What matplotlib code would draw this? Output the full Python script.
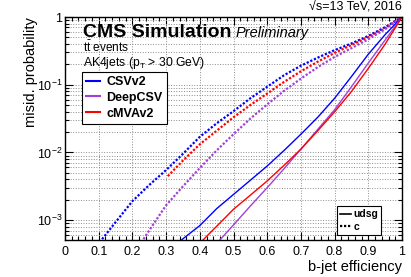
import matplotlib
matplotlib.use("Agg")
import matplotlib.pyplot as plt
from matplotlib.lines import Line2D
from matplotlib.ticker import FixedLocator, LogLocator, NullFormatter, MultipleLocator

plt.rcParams['font.family'] = ['Liberation Sans', 'DejaVu Sans']
plt.rcParams['mathtext.default'] = 'regular'

# b-jet efficiency vs misid. probability
csv_c_x = [0.11, 0.15, 0.2, 0.25, 0.3, 0.35, 0.4, 0.45, 0.5, 0.55, 0.6, 0.65, 0.7, 0.75, 0.8, 0.85, 0.9, 0.95, 1.0]
csv_c_y = [5.25e-4, 9.33e-4, 1.91e-3, 3.31e-3, 5.50e-3, 9.55e-3, 1.70e-2, 2.69e-2, 4.07e-2, 6.31e-2, 9.33e-2,
           0.138, 0.191, 0.251, 0.324, 0.407, 0.525, 0.708, 1.0]

cmva_c_x = [0.305, 0.35, 0.4, 0.45, 0.5, 0.55, 0.6, 0.65, 0.7, 0.75, 0.8, 0.85, 0.9, 0.95, 1.0]
cmva_c_y = [4.47e-3, 7.59e-3, 1.32e-2, 2.09e-2, 3.31e-2, 5.01e-2, 7.41e-2, 0.110, 0.158, 0.219, 0.295,
            0.385, 0.505, 0.680, 1.0]

deep_c_x = [0.233, 0.25, 0.3, 0.35, 0.4, 0.45, 0.5, 0.55, 0.6, 0.65, 0.7, 0.75, 0.8, 0.85, 0.9, 0.95, 1.0]
deep_c_y = [5.25e-4, 7.08e-4, 1.66e-3, 3.16e-3, 5.89e-3, 1.07e-2, 1.86e-2, 3.16e-2, 5.13e-2, 8.13e-2,
            0.123, 0.182, 0.257, 0.347, 0.468, 0.661, 1.0]

csv_l_x = [0.346, 0.4, 0.45, 0.5, 0.55, 0.6, 0.65, 0.7, 0.75, 0.8, 0.85, 0.9, 0.95, 1.0]
csv_l_y = [5.13e-4, 8.32e-4, 1.48e-3, 2.40e-3, 3.89e-3, 6.31e-3, 1.07e-2, 1.86e-2, 3.31e-2, 6.31e-2,
           0.132, 0.282, 0.550, 1.0]

cmva_l_x = [0.41, 0.45, 0.5, 0.55, 0.6, 0.65, 0.7, 0.75, 0.8, 0.85, 0.9, 0.95, 1.0]
cmva_l_y = [5.13e-4, 8.13e-4, 1.45e-3, 2.34e-3, 3.80e-3, 6.46e-3, 1.12e-2, 2.09e-2, 3.98e-2, 7.94e-2,
            0.174, 0.398, 1.0]

deep_l_x = [0.46, 0.5, 0.55, 0.6, 0.65, 0.7, 0.75, 0.8, 0.85, 0.9, 0.95, 1.0]
deep_l_y = [5.13e-4, 8.51e-4, 1.62e-3, 3.02e-3, 5.75e-3, 1.12e-2, 2.19e-2, 4.27e-2, 9.33e-2, 0.209, 0.457, 1.0]

x_ticks = [0, 0.1, 0.2, 0.3, 0.4, 0.5, 0.6, 0.7, 0.8, 0.9, 1.0]
x_labels = ['0', '0.1', '0.2', '0.3', '0.4', '0.5', '0.6', '0.7', '0.8', '0.9', '1']
y_ticks = [1e-3, 1e-2, 1e-1, 1]
y_labels = ['$10^{-3}$', '$10^{-2}$', '$10^{-1}$', '1']

blue = '#0000ff'
red = '#ff0000'
purple = '#a040d8'
dots = (0, (1, 0.8))

fig = plt.figure(figsize=(4.11, 2.77), dpi=100)
ax = fig.add_axes([65 / 411, 37 / 277, 337 / 411, 223 / 277])

ax.plot(csv_c_x, csv_c_y, color=blue, lw=1.6, ls=dots)
ax.plot(cmva_c_x, cmva_c_y, color=red, lw=1.6, ls=dots)
ax.plot(deep_c_x, deep_c_y, color=purple, lw=1.6, ls=dots)
ax.plot(csv_l_x, csv_l_y, color=blue, lw=1.0)
ax.plot(deep_l_x, deep_l_y, color=purple, lw=1.0)
ax.plot(cmva_l_x, cmva_l_y, color=red, lw=1.0)

ax.set_yscale('log')
ax.set_xlim(0, 1)
ax.set_ylim(5.1e-4, 1)

ax.set_xticks(x_ticks)
ax.set_xticklabels(x_labels)
ax.xaxis.set_minor_locator(MultipleLocator(0.02))
ax.yaxis.set_major_locator(FixedLocator(y_ticks))
ax.set_yticklabels(y_labels)
ax.yaxis.set_minor_locator(LogLocator(base=10, subs=range(2, 10)))
ax.yaxis.set_minor_formatter(NullFormatter())

ax.tick_params(which='both', direction='in', top=True, right=True, labelsize=9, width=0.8)
ax.tick_params(which='major', length=6)
ax.tick_params(which='minor', length=3)
ax.tick_params(axis='x', pad=4)
ax.tick_params(axis='y', pad=2)
for s in ax.spines.values():
    s.set_linewidth(1.0)

ax.grid(which='major', axis='both', color='0.55', ls=':', lw=0.7)
ax.grid(which='minor', axis='y', color='0.55', ls=':', lw=0.7)
ax.set_axisbelow(True)

ax.set_xlabel('b-jet efficiency', fontsize=10.5, loc='right', labelpad=2)
ax.set_ylabel('misid. probability', fontsize=10.5, loc='top')
ax.yaxis.set_label_coords(-27 / 337, 1.0)

# header texts
ax.text(0.0534, 0.912, 'CMS Simulation', transform=ax.transAxes, fontsize=14,
        fontweight='bold', va='baseline')
ax.text(0.507, 0.912, 'Preliminary', transform=ax.transAxes, fontsize=10.5,
        style='italic', va='baseline')
ax.text(0.0534, 0.843, r'$t\bar{t}$ events', transform=ax.transAxes, fontsize=8.5, va='baseline')
ax.text(0.0534, 0.781, r'AK4jets (p$_{T}$ > 30 GeV)', transform=ax.transAxes, fontsize=8.7,
        va='baseline')
fig.text(402 / 411, 0.964, '\u221as=13 TeV, 2016', fontsize=9, ha='right', va='baseline')

# tagger legend
tag_handles = [Line2D([], [], color=blue, lw=1.5),
               Line2D([], [], color=purple, lw=1.5),
               Line2D([], [], color=red, lw=1.5)]
leg1 = ax.legend(tag_handles, ['CSVv2', 'DeepCSV', 'cMVAv2'], loc='upper left',
                 bbox_to_anchor=(0.0496, 0.7547), borderaxespad=0, fancybox=False,
                 edgecolor='black', framealpha=1, prop={'weight': 'bold', 'size': 9},
                 handlelength=1.1, handletextpad=0.5, labelspacing=0.3, borderpad=0.35)
leg1.get_frame().set_linewidth(0.8)
ax.add_artist(leg1)

# flavour legend
fl_handles = [Line2D([], [], color='black', lw=1.2),
              Line2D([], [], color='black', lw=1.6, ls=dots)]
leg2 = ax.legend(fl_handles, ['udsg', 'c'], loc='lower left',
                 bbox_to_anchor=(0.806, 0.022), borderaxespad=0, fancybox=False,
                 edgecolor='black', framealpha=1, prop={'weight': 'bold', 'size': 7.5},
                 handlelength=1.1, handletextpad=0.2, labelspacing=0.25, borderpad=0.3)
leg2.get_frame().set_linewidth(0.8)

fig.savefig('out.png', dpi=100)
